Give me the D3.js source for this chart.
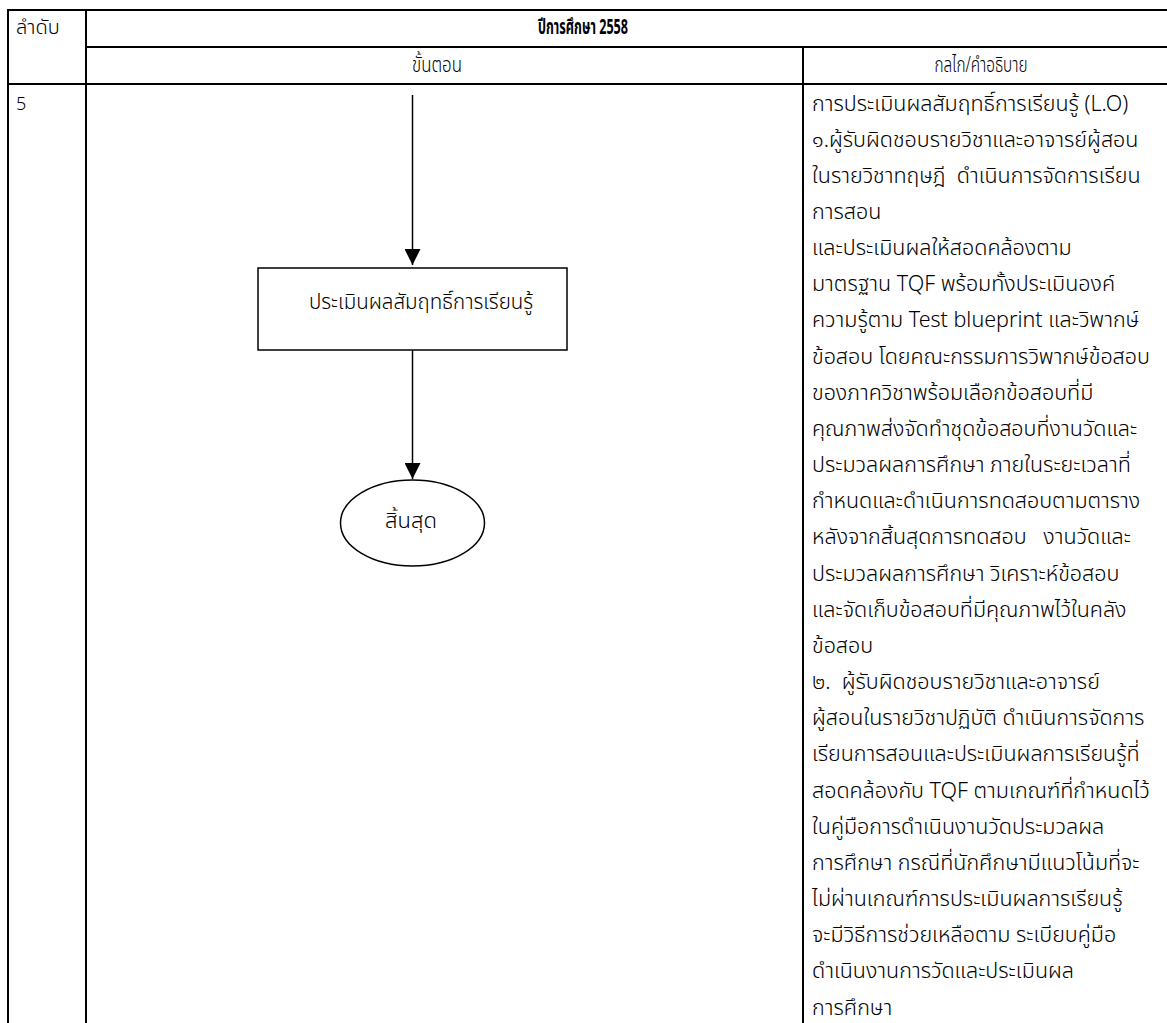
<!DOCTYPE html>
<html>
<head>
<meta charset="utf-8">
<script src="https://cdn.jsdelivr.net/npm/d3@7/dist/d3.min.js"></script>
<style>
  html, body { margin: 0; padding: 0; background: #fff; }
  svg { display: block; }
  text { font-family: "Noto Sans Thai", "Loma", "Tahoma", "Garuda", "Noto Sans", sans-serif; fill: #000; }
</style>
</head>
<body>
<svg id="chart" width="1167" height="1023"></svg>
<script>
// ---- data ----
const headerOrder = "ลำดับ";
const headerYear = "ปีการศึกษา 2558";
const columnTitles = ["ขั้นตอน", "กลไก/คำอธิบาย"];
const rowNumbers = ["5"];
const flowNodes = [
  { type: "process", label: "ประเมินผลสัมฤทธิ์การเรียนรู้" },
  { type: "terminal", label: "สิ้นสุด" }
];
const descriptionLines = [
  "การประเมินผลสัมฤทธิ์การเรียนรู้ (L.O)",
  "๑.ผู้รับผิดชอบรายวิชาและอาจารย์ผู้สอน",
  "ในรายวิชาทฤษฎี  ดำเนินการจัดการเรียน",
  "การสอน",
  "และประเมินผลให้สอดคล้องตาม",
  "มาตรฐาน TQF พร้อมทั้งประเมินองค์",
  "ความรู้ตาม Test blueprint และวิพากษ์",
  "ข้อสอบ โดยคณะกรรมการวิพากษ์ข้อสอบ",
  "ของภาควิชาพร้อมเลือกข้อสอบที่มี",
  "คุณภาพส่งจัดทำชุดข้อสอบที่งานวัดและ",
  "ประมวลผลการศึกษา ภายในระยะเวลาที่",
  "กำหนดและดำเนินการทดสอบตามตาราง",
  "หลังจากสิ้นสุดการทดสอบ   งานวัดและ",
  "ประมวลผลการศึกษา วิเคราะห์ข้อสอบ",
  "และจัดเก็บข้อสอบที่มีคุณภาพไว้ในคลัง",
  "ข้อสอบ",
  "๒.  ผู้รับผิดชอบรายวิชาและอาจารย์",
  "ผู้สอนในรายวิชาปฏิบัติ ดำเนินการจัดการ",
  "เรียนการสอนและประเมินผลการเรียนรู้ที่",
  "สอดคล้องกับ TQF ตามเกณฑ์ที่กำหนดไว้",
  "ในคู่มือการดำเนินงานวัดประมวลผล",
  "การศึกษา กรณีที่นักศึกษามีแนวโน้มที่จะ",
  "ไม่ผ่านเกณฑ์การประเมินผลการเรียนรู้",
  "จะมีวิธีการช่วยเหลือตาม ระเบียบคู่มือ",
  "ดำเนินงานการวัดและประเมินผล",
  "การศึกษา"
];

// ---- layout ----
const svg = d3.select("#chart");
const colEdges = [8, 86, 803, 1180];
const rowEdges = [10, 47, 84, 1040];

const g = svg.append("g");

// table lines
const hLines = [
  { x1: colEdges[0], x2: colEdges[3], y: rowEdges[0] },
  { x1: colEdges[1], x2: colEdges[3], y: rowEdges[1] },
  { x1: colEdges[0], x2: colEdges[3], y: rowEdges[2] }
];
g.selectAll("line.h").data(hLines).join("line")
  .attr("class", "h")
  .attr("x1", d => d.x1 - 1).attr("x2", d => d.x2)
  .attr("y1", d => d.y).attr("y2", d => d.y)
  .attr("stroke", "#000").attr("stroke-width", 2);

const vLines = [
  { x: colEdges[0], y1: rowEdges[0], y2: rowEdges[3] },
  { x: colEdges[1], y1: rowEdges[0], y2: rowEdges[3] },
  { x: colEdges[2], y1: rowEdges[1], y2: rowEdges[3] }
];
g.selectAll("line.v").data(vLines).join("line")
  .attr("class", "v")
  .attr("x1", d => d.x).attr("x2", d => d.x)
  .attr("y1", d => d.y1 - 1).attr("y2", d => d.y2)
  .attr("stroke", "#000").attr("stroke-width", 2);

// headers
g.append("text").text(headerOrder)
  .attr("x", 16).attr("y", 28)
  .attr("dominant-baseline", "central")
  .attr("font-size", 20)
  .attr("font-weight", 300);

g.append("text").text(headerYear)
  .attr("x", 583).attr("y", 27)
  .attr("text-anchor", "middle")
  .attr("dominant-baseline", "central")
  .attr("font-weight", "bold")
  .attr("font-size", 21)
  .attr("textLength", 90)
  .attr("lengthAdjust", "spacingAndGlyphs");

const titleCenters = [437, 981];
const titleWidths = [50, 93];
g.selectAll("text.coltitle").data(columnTitles).join("text")
  .attr("class", "coltitle")
  .text(d => d)
  .attr("x", (d, i) => titleCenters[i]).attr("y", 65)
  .attr("text-anchor", "middle")
  .attr("dominant-baseline", "central")
  .attr("font-size", 22)
  .attr("font-weight", 300)
  .attr("textLength", (d, i) => titleWidths[i])
  .attr("lengthAdjust", "spacingAndGlyphs");

g.selectAll("text.rownum").data(rowNumbers).join("text")
  .attr("class", "rownum")
  .text(d => d)
  .attr("x", 16).attr("y", 104)
  .attr("dominant-baseline", "central")
  .attr("font-size", 18)
  .attr("font-weight", 300);

// description column
const lineY = d3.scaleLinear().domain([0, descriptionLines.length - 1]).range([104, 1008]);
g.selectAll("text.desc").data(descriptionLines).join("text")
  .attr("class", "desc")
  .text(d => d)
  .attr("x", 812)
  .attr("y", (d, i) => lineY(i))
  .attr("dominant-baseline", "central")
  .attr("font-size", 21.5)
  .attr("font-weight", 300)
  .style("white-space", "pre");

// flowchart
const cx = 412.5;
const defs = svg.append("defs");
defs.append("marker")
  .attr("id", "arrow")
  .attr("viewBox", "0 0 16 16")
  .attr("refX", 16).attr("refY", 8)
  .attr("markerWidth", 16).attr("markerHeight", 16)
  .attr("markerUnits", "userSpaceOnUse")
  .attr("orient", "auto")
  .append("path").attr("d", "M0,0 L16,8 L0,16 Z").attr("fill", "#000");

const box = { x: 258, y: 268, w: 309, h: 82 };
const ell = { cy: 523, rx: 72, ry: 43 };

const arrows = [
  { y1: 95, y2: box.y - 3 },
  { y1: box.y + box.h, y2: ell.cy - ell.ry - 1 }
];
g.selectAll("line.arrow").data(arrows).join("line")
  .attr("class", "arrow")
  .attr("x1", cx).attr("x2", cx)
  .attr("y1", d => d.y1).attr("y2", d => d.y2)
  .attr("stroke", "#000").attr("stroke-width", 1.5)
  .attr("marker-end", "url(#arrow)");

g.append("rect")
  .attr("x", box.x).attr("y", box.y)
  .attr("width", box.w).attr("height", box.h)
  .attr("fill", "none").attr("stroke", "#000").attr("stroke-width", 1.5);

g.append("text").text(flowNodes[0].label)
  .attr("x", 421).attr("y", box.y + 34)
  .attr("text-anchor", "middle")
  .attr("dominant-baseline", "central")
  .attr("font-size", 20.5)
  .attr("font-weight", 300);

g.append("ellipse")
  .attr("cx", cx).attr("cy", ell.cy)
  .attr("rx", ell.rx).attr("ry", ell.ry)
  .attr("fill", "none").attr("stroke", "#000").attr("stroke-width", 1.5);

g.append("text").text(flowNodes[1].label)
  .attr("x", 411).attr("y", ell.cy - 2)
  .attr("text-anchor", "middle")
  .attr("dominant-baseline", "central")
  .attr("font-size", 22)
  .attr("font-weight", 300);
</script>
</body>
</html>
